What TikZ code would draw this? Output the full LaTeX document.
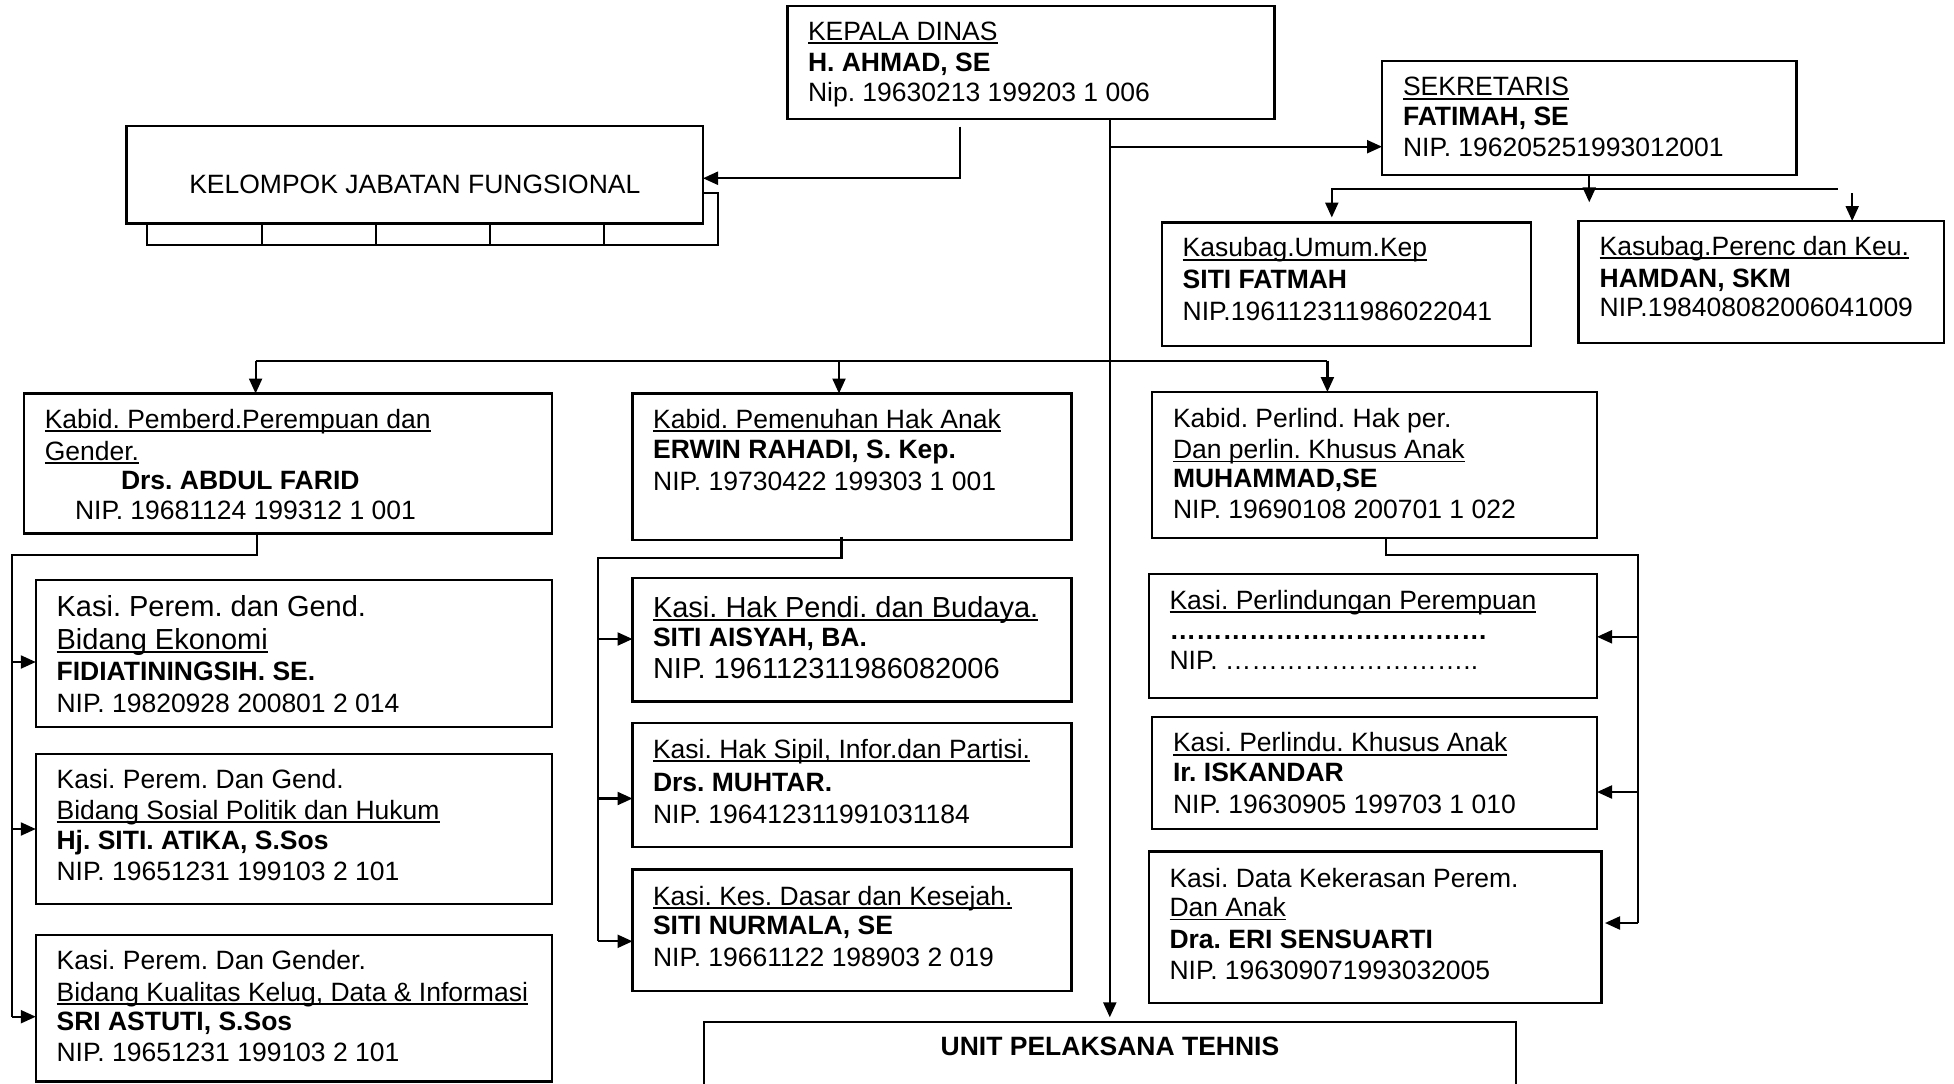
\documentclass[tikz,border=0pt]{standalone}
\usepackage{fontspec}
\setmainfont{Liberation Sans}
\usetikzlibrary{arrows.meta,calc}
\frenchspacing
\newcommand\fs{\fontsize{26.5}{31}\selectfont}
\newcommand\fl{\fontsize{29}{34}\selectfont}
\newcommand\undl[1]{\setbox0=\hbox{#1}\rlap{\rule[-3.8pt]{\wd0}{1.9pt}}\box0}
\newcommand\ells[1]{\foreach \ii in {1,...,#1}{\char"2026}}
\newcommand\bx[6][]{\node[orgbox,minimum width={#5-#3},minimum height={#6-#4},#1] (#2) at (#3,#4) {};}
\newcommand\tx[5][]{\node[txt,#1] (#2) at (#3,#4) {#5};}
\begin{document}
\begin{tikzpicture}[x=1pt,y=-1pt,
  orgbox/.style={draw,line width=2.2pt,inner sep=0pt,outer sep=0pt,anchor=north west},
  txt/.style={anchor=base west,inner sep=0pt,outer sep=0pt,font=\fs\frenchspacing},
  ln/.style={line width=2.2pt},
  arr/.style={ln,-{Triangle[length=15pt,width=13pt]}}]
\useasboundingbox (0,0) rectangle (1954,1084);
\clip (0,0) rectangle (1954,1084);
\fill[white] (0,0) rectangle (1954,1084);

% ---- top level ----
\bx{kepala}{787.5}{6}{1274.5}{119.3}
\tx{kepa}{808}{40}{\undl{KEPALA DINAS}}
\tx{kepb}{808}{71}{\textbf{H. AHMAD, SE}}
\tx{kepc}{808}{101}{Nip. 19630213 199203 1 006}

\bx{sek}{1382}{61}{1796.5}{175}
\tx{seka}{1403}{95.7}{\undl{SEKRETARIS}}
\tx{sekb}{1403}{125}{\textbf{FATIMAH, SE}}
\tx{sekc}{1403}{156.7}{NIP. 196205251993012001}

\bx{umum}{1162}{222.5}{1530.7}{345.7}
\tx{umuma}{1182.7}{256.7}{\undl{Kasubag.Umum.Kep}}
\tx{umumb}{1182.7}{288.3}{\textbf{SITI FATMAH}}
\tx{umumc}{1182.7}{320}{NIP.196112311986022041}

\bx{perenc}{1578.5}{221}{1944}{343.3}
\tx{pera}{1599.6}{255}{\undl{Kasubag.Perenc dan Keu.}}
\tx{perb}{1599.6}{287.3}{\textbf{HAMDAN, SKM}}
\tx{perc}{1599.6}{316.7}{NIP.198408082006041009}

\bx{kelback}{147}{193}{718}{245}
\foreach \xx in {261.7,376,490,604} \draw[ln] (\xx,223.5) -- (\xx,245);
\bx[fill=white]{kelompok}{126.5}{126}{703}{223.5}
\tx[anchor=base]{kela}{414.8}{193}{KELOMPOK JABATAN FUNGSIONAL}

% ---- kabid ----
\bx{kabid1}{24}{393.5}{552}{533.5}
\tx{k1a}{44.8}{428.5}{\undl{Kabid. Pemberd.Perempuan dan}}
\tx{k1b}{44.8}{460}{\undl{Gender.}}
\tx{k1c}{121}{489}{\textbf{Drs. ABDUL FARID}}
\tx{k1d}{75}{519}{NIP. 19681124 199312 1 001}

\bx{kabid2}{632.5}{393.5}{1071.4}{540}
\tx{k2a}{653.2}{428.5}{\undl{Kabid. Pemenuhan Hak Anak}}
\tx{k2b}{653.2}{458.6}{\textbf{ERWIN RAHADI, S. Kep.}}
\tx{k2c}{653.2}{490}{NIP. 19730422 199303 1 001}

\bx{kabid3}{1152}{392}{1597}{538}
\tx{k3a}{1173}{427}{Kabid. Perlind. Hak per.}
\tx{k3b}{1173}{458.6}{\undl{Dan perlin. Khusus Anak}}
\tx{k3c}{1173}{487.8}{\textbf{MUHAMMAD,SE}}
\tx{k3d}{1173}{518.3}{NIP. 19690108 200701 1 022}

% ---- kasi left ----
\bx{kasi1a}{35.8}{579.6}{552}{727}
\tx{s1aa}{56.6}{616.6}{\fl Kasi. Perem. dan Gend.}
\tx{s1ab}{56.6}{649.4}{\fl\undl{Bidang Ekonomi}}
\tx{s1ac}{56.6}{680.9}{\textbf{FIDIATININGSIH. SE.}}
\tx{s1ad}{56.6}{712.3}{NIP. 19820928 200801 2 014}

\bx{kasi1b}{35.8}{753.6}{552}{904}
\tx{s1ba}{56.6}{788.5}{Kasi. Perem. Dan Gend.}
\tx{s1bb}{56.6}{819}{\undl{Bidang Sosial Politik dan Hukum}}
\tx{s1bc}{56.6}{849}{\textbf{Hj. SITI. ATIKA, S.Sos}}
\tx{s1bd}{56.6}{880.7}{NIP. 19651231 199103 2 101}

\bx{kasi1c}{35.8}{934.6}{552}{1081.4}
\tx{s1ca}{56.6}{969}{Kasi. Perem. Dan Gender.}
\tx{s1cb}{56.6}{1001}{\undl{Bidang Kualitas Kelug, Data \& Informasi}}
\tx{s1cc}{56.6}{1030}{\textbf{SRI ASTUTI, S.Sos}}
\tx{s1cd}{56.6}{1061.6}{NIP. 19651231 199103 2 101}

% ---- kasi middle ----
\bx{kasi2a}{632.5}{578}{1071.4}{701.5}
\tx{s2aa}{653}{617}{\fl\undl{Kasi. Hak Pendi. dan Budaya.}}
\tx{s2ab}{653}{646}{\textbf{SITI AISYAH, BA.}}
\tx{s2ac}{653}{678.6}{\fl NIP. 196112311986082006}

\bx{kasi2b}{632.5}{722.6}{1071.4}{847}
\tx{s2ba}{653}{758}{\undl{Kasi. Hak Sipil, Infor.dan Partisi.}}
\tx{s2bb}{653}{791}{\textbf{Drs. MUHTAR.}}
\tx{s2bc}{653}{823}{NIP. 196412311991031184}

\bx{kasi2c}{632.5}{869.4}{1071.4}{990.7}
\tx{s2ca}{653}{905}{\undl{Kasi. Kes. Dasar dan Kesejah.}}
\tx{s2cb}{653}{934.6}{\textbf{SITI NURMALA, SE}}
\tx{s2cc}{653}{966}{NIP. 19661122 198903 2 019}

% ---- kasi right ----
\bx{kasi3a}{1148.7}{574}{1597}{698}
\tx{s3aa}{1169.5}{609}{\undl{Kasi. Perlindungan Perempuan}}
\tx{s3ab}{1169.5}{639.5}{\textbf{\ells{12}}}
\tx{s3ac}{1169.5}{669.6}{NIP. \ells{9}..}

\bx{kasi3b}{1152}{716.8}{1597}{829}
\tx{s3ba}{1173}{751.8}{\undl{Kasi. Perlindu. Khusus Anak}}
\tx{s3bb}{1173}{781}{\textbf{Ir. ISKANDAR}}
\tx{s3bc}{1173}{813.3}{NIP. 19630905 199703 1 010}

\bx{kasi3c}{1148.7}{851.5}{1601.4}{1003.3}
\tx{s3ca}{1169.5}{887.4}{Kasi. Data Kekerasan Perem.}
\tx{s3cb}{1169.5}{916.6}{\undl{Dan Anak}}
\tx{s3cc}{1169.5}{948}{\textbf{Dra. ERI SENSUARTI}}
\tx{s3cd}{1169.5}{979.5}{NIP. 196309071993032005}

% ---- unit ----
\bx{unit}{703.6}{1022.3}{1516}{1110}
\tx[anchor=base]{unita}{1110}{1055.5}{\textbf{UNIT PELAKSANA TEHNIS}}

% ---- connectors ----
\coordinate (kk1) at (960,126.7);
\draw[arr] (kk1) |- ([yshift=-3.5pt]kelompok.east);
\draw[arr,shorten >=5pt] (kepala.south -| unit.north) -- (unit.north);
\coordinate (j1) at (1110,146.7);
\draw[arr] (j1) -- (j1 -| sek.west);

\coordinate (s1) at (1589.25,202.3);
\draw[arr] (sek.south) -- (s1);
\coordinate (h1) at (1331.8,189.3);
\coordinate (h2) at (1837.7,189.3);
\draw[arr,shorten >=5pt] (h2) -- (h1) -- (h1 |- umum.north);
\coordinate (h3) at (1852.2,193.3);
\draw[arr] (h3) -- (h3 |- perenc.north);

\coordinate (b1) at (255.6,360.7);
\coordinate (b2) at (839,360.7);
\coordinate (b3) at (1327.4,360.7);
\draw[ln] (b1) -- (b3);
\draw[arr] (b1) -- (b1 |- kabid1.north);
\draw[arr] (b2) -- (b2 |- kabid2.north);
\draw[arr] (b3) -- (b3 |- kabid3.north);

\coordinate (lt) at (257.2,555);
\coordinate (la) at (11.7,662);
\coordinate (lb) at (11.7,829);
\coordinate (lc) at (11.7,1016.7);
\draw[ln] (lt |- kabid1.south) -- (lt) -| (lc);
\draw[arr] (la) -- (la -| kasi1a.west);
\draw[arr] (lb) -- (lb -| kasi1b.west);
\draw[arr] (lc) -- (lc -| kasi1c.west);

\coordinate (mt0) at (841.5,536.7);
\coordinate (mt) at (841.5,558.3);
\coordinate (ma) at (598,639);
\coordinate (mb) at (598,798.5);
\coordinate (mc) at (598,941.3);
\draw[ln] (mt0) -- (mt) -| (mc);
\draw[arr] (ma) -- (ma -| kasi2a.west);
\draw[arr] (mb) -- (mb -| kasi2b.west);
\draw[arr] (mc) -- (mc -| kasi2c.west);

\coordinate (rt) at (1386,555);
\coordinate (ra) at (1637.6,636.8);
\coordinate (rb) at (1637.6,792);
\coordinate (rc) at (1637.6,923);
\draw[ln] (rt |- kabid3.south) -- (rt) -| (rc);
\draw[arr] (ra) -- (ra -| kasi3a.east);
\draw[arr] (rb) -- (rb -| kasi3b.east);
\draw[arr,shorten >=3.6pt] (rc) -- (rc -| kasi3c.east);
\end{tikzpicture}
\end{document}
